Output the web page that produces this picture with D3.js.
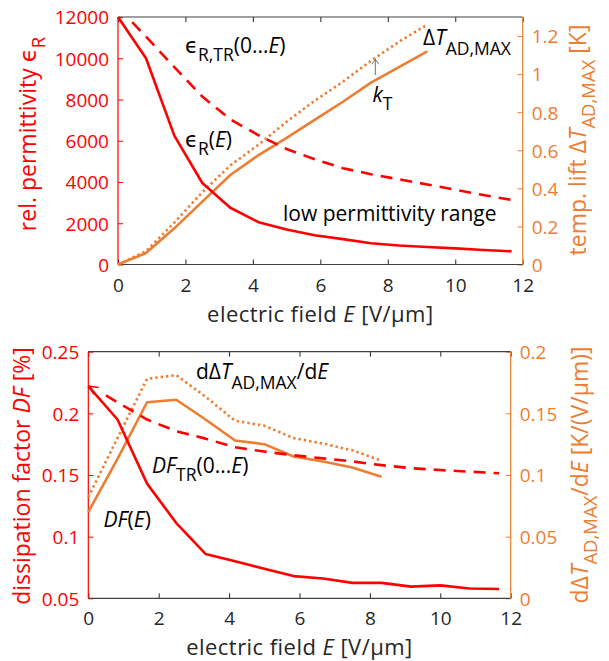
<!DOCTYPE html>
<html>
<head>
<meta charset="utf-8">
<script src="https://cdn.jsdelivr.net/npm/d3@7"></script>
<style>
  html, body { margin: 0; padding: 0; background: #fff; }
  svg { display: block; font-family: "Open Sans", "DejaVu Sans", sans-serif; }
</style>
</head>
<body>
<svg id="chart" width="609" height="661"></svg>
<script>
// ---------------- DATA ----------------
const E = [0, 0.83, 1.67, 2.5, 3.33, 4.17, 5, 5.83, 6.67, 7.5, 8.33, 9.17, 10, 10.83, 11.67];

// top chart
const epsR = [12000, 10000, 6250, 3950, 2750, 2050, 1700, 1420, 1230, 1030, 920, 850, 780, 700, 640];
const epsTR_E = [0.42, 0.83, 1.67, 2.5, 3.33, 4.17, 5, 5.83, 6.67, 7.5, 8.33, 9.17, 10, 10.83, 11.67];
const epsTR = [11750, 11050, 9570, 8140, 7035, 6265, 5600, 5105, 4670, 4380, 4130, 3880, 3620, 3370, 3130];
const dTad = [0, 0.06, 0.19, 0.33, 0.47, 0.575, 0.665, 0.76, 0.855, 0.955, 1.037, 1.12];
const dTadMax = [0, 0.07, 0.22, 0.38, 0.52, 0.63, 0.75, 0.86, 0.96, 1.07, 1.17, 1.26];
const kT = { E: 7.63, from: 0.995, to: 1.078 };

// bottom chart
const DF = [0.222, 0.195, 0.143, 0.111, 0.086, 0.080, 0.074, 0.068, 0.066, 0.0625, 0.0625, 0.0595, 0.0605, 0.058, 0.0575];
const DFtr_E = [0.5, 0.83, 1.67, 2.5, 3.33, 4.17, 5, 5.83, 6.67, 7.5, 8.33, 9.17, 10, 10.83, 11.67];
const DFtr = [0.2145, 0.209, 0.195, 0.1855, 0.1795, 0.1725, 0.169, 0.166, 0.1635, 0.161, 0.158, 0.1555, 0.154, 0.1527, 0.1514];
const dTdE = [0.070, 0.113, 0.159, 0.161, 0.145, 0.128, 0.125, 0.115, 0.111, 0.106, 0.0986];
const dTdEMax = [0.082, 0.130, 0.178, 0.181, 0.1635, 0.144, 0.140, 0.130, 0.1255, 0.120, 0.1116];
const DFstart = { E: 0, v: 0.222 };

// ticks
const xTicks = [0, 2, 4, 6, 8, 10, 12];
const epsTicks = [0, 2000, 4000, 6000, 8000, 10000, 12000];
const dTTicks = [0, 0.2, 0.4, 0.6, 0.8, 1, 1.2];
const dfTicks = [0.05, 0.1, 0.15, 0.2, 0.25];
const dTdETicks = [0, 0.05, 0.1, 0.15, 0.2];

// ---------------- STYLE ----------------
const RED = "#ff0000";
const ORANGE = "#ed7d31";
const GRAY = "#262626";
const FS = 19;      // tick font size
const AFS = 21;     // annotation font size
const ASUB = 17.5;  // annotation subscript
const LFS = 23;     // axis label font size
const LSUB = 18.5;  // axis label subscript
const XFS = 22;     // x axis label font size

const svg = d3.select("#chart");

function rich(parent, x, y, parts, color, opts = {}) {
  const t = parent.append("text")
    .attr("font-size", opts.fs || AFS)
    .attr("fill", color)
    .attr("text-anchor", opts.anchor || "start");
  if (opts.ls) t.attr("letter-spacing", opts.ls);
  if (opts.rotate) t.attr("transform", `translate(${x},${y}) rotate(-90)`);
  else t.attr("x", x).attr("y", y);
  const sdy = opts.sdy || 8;
  let inSub = false;
  parts.forEach(p => {
    const ts = t.append("tspan").text(p.t);
    if (p.i) ts.attr("font-style", "italic");
    if (p.s) {
      ts.attr("font-size", opts.sub || ASUB);
      if (!inSub) { ts.attr("dy", sdy); inSub = true; }
    } else if (inSub) { ts.attr("dy", -sdy); inSub = false; }
  });
  return t;
}

function styleAxis(g, color, fontColor) {
  g.select(".domain").remove();
  g.selectAll(".tick line").attr("stroke", color).attr("stroke-width", 1);
  g.selectAll(".tick text").attr("fill", fontColor).attr("font-size", FS)
    .attr("font-family", '"Open Sans", "DejaVu Sans", sans-serif');
}

const fmt = d => String(+d.toFixed(3));

function panel(cfg) {
  const x = d3.scaleLinear().domain([0, 12]).range([cfg.left, cfg.right]);
  const yL = d3.scaleLinear().domain(cfg.yLdom).range([cfg.bottom, cfg.top]);
  const yR = d3.scaleLinear().domain(cfg.yRdom).range([cfg.bottom, cfg.top]);
  const g = svg.append("g");

  const gxb = g.append("g").attr("transform", `translate(0,${cfg.bottom})`)
    .call(d3.axisBottom(x).tickValues(xTicks).tickSize(-5).tickPadding(cfg.xPad).tickFormat(fmt));
  styleAxis(gxb, GRAY, GRAY);
  const gxt = g.append("g").attr("transform", `translate(0,${cfg.top})`)
    .call(d3.axisTop(x).tickValues(xTicks).tickSize(-5).tickFormat(""));
  styleAxis(gxt, GRAY, GRAY);

  const gyl = g.append("g").attr("transform", `translate(${cfg.left},0)`)
    .call(d3.axisLeft(yL).tickValues(cfg.yLticks).tickSize(-5).tickPadding(9).tickFormat(fmt));
  styleAxis(gyl, RED, RED);
  gyl.selectAll(".tick text").attr("dy", "0.36em");
  const gyr = g.append("g").attr("transform", `translate(${cfg.right},0)`)
    .call(d3.axisRight(yR).tickValues(cfg.yRticks).tickSize(-5).tickPadding(9).tickFormat(fmt));
  styleAxis(gyr, ORANGE, ORANGE);
  gyr.selectAll(".tick text").attr("dy", "0.36em");

  g.append("line").attr("x1", cfg.left).attr("x2", cfg.right).attr("y1", cfg.top).attr("y2", cfg.top)
    .attr("stroke", "#404040").attr("stroke-width", 1.2);
  g.append("line").attr("x1", cfg.left).attr("x2", cfg.right).attr("y1", cfg.bottom).attr("y2", cfg.bottom)
    .attr("stroke", "#404040").attr("stroke-width", 1.2);
  g.append("line").attr("x1", cfg.left).attr("x2", cfg.left).attr("y1", cfg.top).attr("y2", cfg.bottom)
    .attr("stroke", RED).attr("stroke-width", 1.2);
  g.append("line").attr("x1", cfg.right).attr("x2", cfg.right).attr("y1", cfg.top).attr("y2", cfg.bottom)
    .attr("stroke", ORANGE).attr("stroke-width", 1.2);

  rich(g, (cfg.left + cfg.right) / 2, cfg.xLabelY,
    [{ t: "electric field " }, { t: "E", i: true }, { t: " [V/μm]" }], GRAY,
    { anchor: "middle", fs: XFS, ls: 0.45 });

  return { g, x, yL, yR };
}

function drawLine(g, xs, ys, xS, yS, color, dash) {
  const pts = ys.map((v, i) => [xs[i], v]);
  const p = g.append("path")
    .datum(pts)
    .attr("fill", "none")
    .attr("stroke", color)
    .attr("stroke-width", 2.6)
    .attr("stroke-linejoin", "round")
    .attr("d", d3.line().x(d => xS(d[0])).y(d => yS(d[1])));
  if (dash === "dash") p.attr("stroke-dasharray", "12,8");
  if (dash === "dot") p.attr("stroke-dasharray", "2.4,3").attr("stroke-width", 2.6);
  return p;
}

// ---------------- TOP PANEL ----------------
const T = panel({
  left: 118, right: 522.7, top: 17, bottom: 264.5,
  yLdom: [0, 12000], yRdom: [0, 1.3],
  yLticks: epsTicks, yRticks: dTTicks,
  xPad: 14, xLabelY: 322
});

drawLine(T.g, E, dTadMax, T.x, T.yR, ORANGE, "dot");
drawLine(T.g, E, dTad, T.x, T.yR, ORANGE);
drawLine(T.g, epsTR_E, epsTR, T.x, T.yL, RED, "dash");
drawLine(T.g, E, epsR, T.x, T.yL, RED);

// kT arrow
{
  const ax = T.x(kT.E), y1 = T.yR(kT.from), y2 = T.yR(kT.to);
  T.g.append("line").attr("x1", ax).attr("x2", ax).attr("y1", y1).attr("y2", y2)
    .attr("stroke", "#707070").attr("stroke-width", 1);
  T.g.append("path").attr("d", `M${ax - 3.5},${y2 + 5} L${ax},${y2} L${ax + 3.5},${y2 + 5}`)
    .attr("fill", "none").attr("stroke", "#707070").attr("stroke-width", 1);
}

// top annotations
rich(T.g, 185, 53, [{ t: "ϵ" }, { t: "R,TR", s: true }, { t: "(0...", }, { t: "E", i: true }, { t: ")" }], "#000");
rich(T.g, 185, 147, [{ t: "ϵ" }, { t: "R", s: true }, { t: "(" }, { t: "E", i: true }, { t: ")" }], "#000");
rich(T.g, 423, 45, [{ t: "Δ" }, { t: "T", i: true }, { t: "AD,MAX", s: true }], "#000", { sdy: 10 });
rich(T.g, 372.5, 102, [{ t: "k", i: true }, { t: "T", s: true }], "#000");
rich(T.g, 283, 220.5, [{ t: "low permittivity range" }], "#000");

// axis labels
rich(svg, 35.5, 134, [{ t: "rel. permittivity ϵ" }, { t: "R", s: true }], RED,
  { rotate: true, anchor: "middle", fs: LFS, sub: LSUB, sdy: 9 });
rich(svg, 586, 140, [{ t: "temp. lift Δ" }, { t: "T", i: true }, { t: "AD,MAX", s: true }, { t: " [K]" }], ORANGE,
  { rotate: true, anchor: "middle", fs: LFS, sub: LSUB, sdy: 9 });

// ---------------- BOTTOM PANEL ----------------
const B = panel({
  left: 88.3, right: 510.7, top: 351.7, bottom: 598.3,
  yLdom: [0.05, 0.25], yRdom: [0, 0.2],
  yLticks: dfTicks, yRticks: dTdETicks,
  xPad: 13.5, xLabelY: 654.5
});

drawLine(B.g, E, dTdEMax, B.x, B.yR, ORANGE, "dot");
drawLine(B.g, E, dTdE, B.x, B.yR, ORANGE);
drawLine(B.g, DFtr_E, DFtr, B.x, B.yL, RED, "dash");
drawLine(B.g, E, DF, B.x, B.yL, RED);

// arrowhead at DF start
{
  const px = B.x(DFstart.E) + 1.5, py = B.yL(DFstart.v);
  const ang = 36 * Math.PI / 180, spread = 28 * Math.PI / 180, L = 9;
  const a1 = ang - spread, a2 = ang + spread;
  B.g.append("path")
    .attr("d", `M${px + L * Math.cos(a1)},${py + L * Math.sin(a1)} L${px},${py} L${px + L * Math.cos(a2)},${py + L * Math.sin(a2)}`)
    .attr("fill", "none").attr("stroke", RED).attr("stroke-width", 1.6);
}

// bottom annotations
rich(B.g, 196, 379, [{ t: "dΔ" }, { t: "T", i: true }, { t: "AD,MAX", s: true }, { t: "/d" }, { t: "E", i: true }], "#000",
  { sdy: 10 });
rich(B.g, 152, 473, [{ t: "DF", i: true }, { t: "TR", s: true }, { t: "(0..." }, { t: "E", i: true }, { t: ")" }], "#000");
rich(B.g, 103.5, 527, [{ t: "DF", i: true }, { t: "(" }, { t: "E", i: true }, { t: ")" }], "#000");

rich(svg, 29.5, 476, [{ t: "dissipation factor " }, { t: "DF", i: true }, { t: " [%]" }], RED,
  { rotate: true, anchor: "middle", fs: LFS });
rich(svg, 588, 475, [{ t: "dΔ" }, { t: "T", i: true }, { t: "AD,MAX", s: true }, { t: "/d" }, { t: "E", i: true }, { t: " [K/(V/μm)]" }],
  ORANGE, { rotate: true, anchor: "middle", fs: LFS, sub: LSUB, sdy: 9 });
</script>
</body>
</html>
